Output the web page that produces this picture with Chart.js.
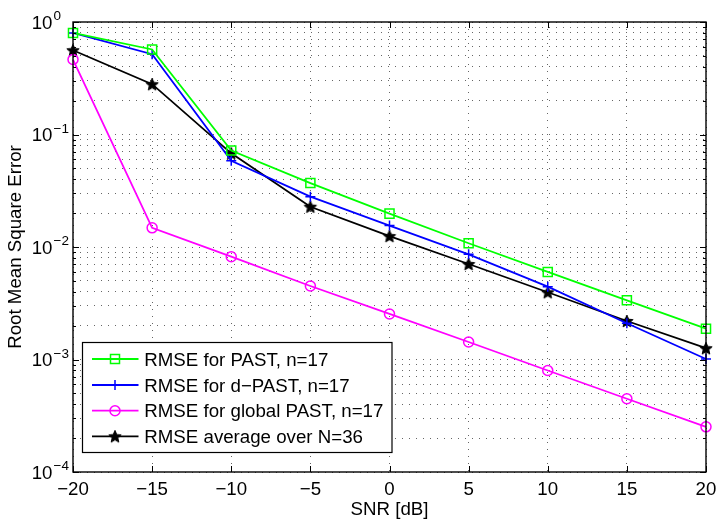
<!DOCTYPE html>
<html>
<head>
<meta charset="utf-8">
<script src="https://cdn.jsdelivr.net/npm/chart.js@4.4.0/dist/chart.umd.min.js"></script>
<style>
  body { margin: 0; background: #fff; }
  #wrap { width: 717px; height: 519px; }
</style>
</head>
<body>
<div id="wrap"><canvas id="chart" width="717" height="519"></canvas></div>
<script>
// data
const snr = [-20, -15, -10, -5, 0, 5, 10, 15, 20];
const rmsePast   = [0.80, 0.57, 0.072, 0.037, 0.0198, 0.0108, 0.0060, 0.00336, 0.00188];
const rmseDPast  = [0.80, 0.517, 0.0583, 0.028, 0.0155, 0.0086, 0.00444, 0.0021, 0.00101];
const rmseGlobal = [0.464, 0.0148, 0.0082, 0.0045, 0.00254, 0.00143, 0.000798, 0.000448, 0.000252];
const rmseAvg    = [0.561, 0.28, 0.068, 0.0228, 0.0125, 0.00706, 0.00396, 0.0022, 0.00126];
const seriesNames = ['RMSE for PAST, n=17', 'RMSE for d\u2212PAST, n=17', 'RMSE for global PAST, n=17', 'RMSE average over N=36'];
const xTicks = [-20, -15, -10, -5, 0, 5, 10, 15, 20];
const yDecades = [-4, -3, -2, -1, 0];
const xTitle = 'SNR [dB]';
const yTitle = 'Root Mean Square Error';

const FONT = '"Liberation Sans", Arial, Helvetica, sans-serif';

// every minor log position for the dotted grid
let yGrid = [];
for (let e = yDecades[0]; e < yDecades[yDecades.length - 1]; e++) {
  for (let m = 1; m <= 9; m++) yGrid.push(m * Math.pow(10, e));
}
yGrid.push(Math.pow(10, yDecades[yDecades.length - 1]));

function pts(ys) {
  return snr.map((x, i) => ({ x: x, y: ys[i] }));
}

// filled pentagram used for the black series
function starImage(r) {
  const c = document.createElement('canvas');
  const s = Math.ceil(r * 2 + 3);
  c.width = s; c.height = s;
  const g = c.getContext('2d');
  g.fillStyle = '#000';
  g.strokeStyle = '#000';
  g.lineWidth = 1;
  g.beginPath();
  for (let i = 0; i < 10; i++) {
    const rr = i % 2 === 0 ? r : r * 0.45;
    const a = -Math.PI / 2 + i * Math.PI / 5;
    const px = s / 2 + rr * Math.cos(a), py = s / 2 + 0.6 + rr * Math.sin(a);
    if (i === 0) g.moveTo(px, py); else g.lineTo(px, py);
  }
  g.closePath();
  g.fill();
  g.stroke();
  return c;
}
const star = starImage(6.5);

function drawMarker(ctx, kind, x, y, color) {
  ctx.save();
  ctx.strokeStyle = color;
  ctx.lineWidth = 1.5;
  if (kind === 'rect') {
    ctx.strokeRect(x - 4.5, y - 4.5, 9, 9);
  } else if (kind === 'cross') {
    ctx.beginPath();
    ctx.moveTo(x - 5, y); ctx.lineTo(x + 5, y);
    ctx.moveTo(x, y - 5); ctx.lineTo(x, y + 5);
    ctx.stroke();
  } else if (kind === 'circle') {
    ctx.beginPath();
    ctx.arc(x, y, 5, 0, Math.PI * 2);
    ctx.stroke();
  } else {
    ctx.drawImage(star, x - star.width / 2, y - star.height / 2);
  }
  ctx.restore();
}

const markerKinds = ['rect', 'cross', 'circle', 'star'];
const colors = ['#00ff00', '#0000ff', '#ff00ff', '#000000'];

const axesFrame = {
  id: 'axesFrame',
  afterDatasetsDraw(chart) {
    const ctx = chart.ctx;
    const a = chart.chartArea;
    const xs = chart.scales.x, ys = chart.scales.y;
    ctx.save();

    // box
    ctx.strokeStyle = '#000';
    ctx.lineWidth = 1.4;
    ctx.strokeRect(a.left, a.top, a.right - a.left, a.bottom - a.top);

    // inward ticks
    ctx.lineWidth = 1;
    ctx.beginPath();
    xTicks.forEach(v => {
      const px = Math.round(xs.getPixelForValue(v)) + 0.5;
      ctx.moveTo(px, a.bottom); ctx.lineTo(px, a.bottom - 6);
      ctx.moveTo(px, a.top); ctx.lineTo(px, a.top + 6);
    });
    yGrid.forEach(v => {
      const py = Math.round(ys.getPixelForValue(v)) + 0.5;
      const major = Math.abs(Math.log10(v) - Math.round(Math.log10(v))) < 1e-9;
      const len = major ? 6 : 3;
      ctx.moveTo(a.left, py); ctx.lineTo(a.left + len, py);
      ctx.moveTo(a.right, py); ctx.lineTo(a.right - len, py);
    });
    ctx.stroke();

    // tick labels
    ctx.fillStyle = '#000';
    ctx.font = '18.7px ' + FONT;
    ctx.textAlign = 'center';
    ctx.textBaseline = 'alphabetic';
    xTicks.forEach(v => {
      const label = String(v).replace('-', '\u2212');
      ctx.fillText(label, xs.getPixelForValue(v), 495);
    });
    yDecades.forEach(e => {
      const py = ys.getPixelForValue(Math.pow(10, e));
      ctx.font = '18.7px ' + FONT;
      ctx.textAlign = 'right';
      ctx.fillText('10', 52.5, py + 6.7);
      ctx.font = '13.5px ' + FONT;
      ctx.textAlign = 'left';
      ctx.fillText(String(e).replace('-', '\u2212'), 53.5, py - 1.8);
    });

    // axis titles
    ctx.font = '18.7px ' + FONT;
    ctx.textAlign = 'center';
    ctx.fillText(xTitle, (a.left + a.right) / 2, 515);
    ctx.save();
    ctx.translate(20.5, (a.top + a.bottom) / 2);
    ctx.rotate(-Math.PI / 2);
    ctx.fillText(yTitle, 0, 0);
    ctx.restore();

    // legend
    const lx = 82.5, ly = 342.5, lw = 309.5, lh = 110;
    ctx.fillStyle = '#fff';
    ctx.fillRect(lx, ly, lw, lh);
    ctx.strokeStyle = '#000';
    ctx.lineWidth = 1.2;
    ctx.strokeRect(lx, ly, lw, lh);
    const rows = [359, 385, 410.7, 436.3];
    chart.data.datasets.forEach((ds, i) => {
      const y = rows[i];
      ctx.strokeStyle = ds.borderColor;
      ctx.lineWidth = 1.8;
      ctx.beginPath();
      ctx.moveTo(92, y); ctx.lineTo(138.5, y);
      ctx.stroke();
      drawMarker(ctx, markerKinds[i], 115, y, ds.borderColor);
      ctx.fillStyle = '#000';
      ctx.font = '18.7px ' + FONT;
      ctx.textAlign = 'left';
      ctx.fillText(ds.label, 144.3, y + 6.7);
    });

    ctx.restore();
  }
};

const ctx = document.getElementById('chart');

new Chart(ctx, {
  type: 'line',
  data: {
    datasets: [
      { label: seriesNames[0], data: pts(rmsePast), borderColor: colors[0], pointStyle: 'rect', pointRadius: 6.4 },
      { label: seriesNames[1], data: pts(rmseDPast), borderColor: colors[1], pointStyle: 'cross', pointRadius: 5 },
      { label: seriesNames[2], data: pts(rmseGlobal), borderColor: colors[2], pointStyle: 'circle', pointRadius: 5 },
      { label: seriesNames[3], data: pts(rmseAvg), borderColor: colors[3], pointStyle: star, pointRadius: 6.5 }
    ].map(ds => Object.assign(ds, {
      borderWidth: 1.8,
      backgroundColor: 'rgba(0,0,0,0)',
      pointBorderColor: ds.borderColor,
      pointBackgroundColor: 'rgba(0,0,0,0)',
      pointBorderWidth: 1.5,
      tension: 0,
      clip: false
    }))
  },
  options: {
    responsive: false,
    animation: false,
    events: [],
    layout: { padding: { left: 0, top: 22, right: 11, bottom: 0 } },
    plugins: { legend: { display: false }, tooltip: { enabled: false } },
    scales: {
      x: {
        type: 'linear',
        min: -20,
        max: 20,
        afterBuildTicks: (s) => { s.ticks = xTicks.map(v => ({ value: v })); },
        afterFit: (s) => { s.height = 47; },
        ticks: { display: false },
        grid: { color: 'rgba(0,0,0,0.6)', lineWidth: 1, drawTicks: false },
        border: { display: false, dash: [1, 6] }
      },
      y: {
        type: 'logarithmic',
        min: 1e-4,
        max: 1,
        afterBuildTicks: (s) => { s.ticks = yGrid.map(v => ({ value: v })); },
        afterFit: (s) => { s.width = 73; },
        ticks: { display: false },
        grid: { color: 'rgba(0,0,0,0.6)', lineWidth: 1, drawTicks: false },
        border: { display: false, dash: [1, 6] }
      }
    }
  },
  plugins: [axesFrame]
});
</script>
</body>
</html>
